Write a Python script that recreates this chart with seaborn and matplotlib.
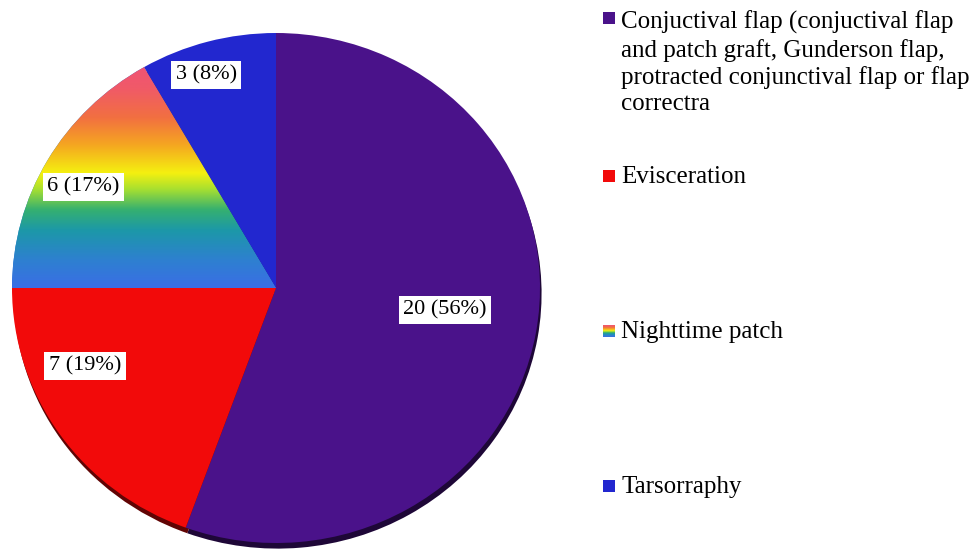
import numpy as np
import matplotlib
matplotlib.use("Agg")
import matplotlib.pyplot as plt
import seaborn as sns
from matplotlib.colors import LinearSegmentedColormap, to_rgb
from matplotlib.patches import Rectangle

# ---- data ----
categories = [
    "Conjuctival flap (conjuctival flap\nand patch graft, Gunderson flap,\nprotracted conjunctival flap or flap\ncorrectra",
    "Evisceration",
    "Nighttime patch",
    "Tarsorraphy",
]
counts = [20, 7, 6, 3]
pct_labels = ["20 (56%)", "7 (19%)", "6 (17%)", "3 (8%)"]
colors = ["#4A128A", "#F20A0A", "#2E78D8", "#2227CF"]

# ---- style ----
sns.set_theme(style="white")
plt.rcParams["font.family"] = ["Liberation Serif", "DejaVu Serif"]

W, H = 969, 554
fig = plt.figure(figsize=(W / 100, H / 100), dpi=100)
fig.patch.set_facecolor("white")
cx, cy, RX, RY = 276, 288, 264, 255  # pixel centre / radii of pie
m = 1.04
ax = fig.add_axes([(cx - RX * m) / W, (H - cy - RY * m) / H, 2 * RX * m / W, 2 * RY * m / H])

# shadow pie (3D edge)
dark = [tuple(c * 0.4 for c in to_rgb(col)) for col in colors]
ax.pie(counts, colors=dark, startangle=90, counterclock=False,
       center=(0.006, -0.022), radius=1, wedgeprops=dict(linewidth=0))
wedges, _ = ax.pie(counts, colors=colors, startangle=90, counterclock=False,
                   radius=1, wedgeprops=dict(linewidth=0))

# rainbow gradient for the nighttime patch wedge
rainbow = LinearSegmentedColormap.from_list("rb", [
    (0.00, "#3A6EE6"), (0.12, "#2E80D0"), (0.25, "#1C98A8"), (0.34, "#35B070"),
    (0.43, "#A8E030"), (0.50, "#F4F010"), (0.62, "#F5A820"), (0.74, "#F27040"),
    (0.87, "#F05A68"), (1.00, "#F0507A")])
grad = np.linspace(0, 1, 256).reshape(-1, 1)
im = ax.imshow(grad, cmap=rainbow, origin="lower", extent=[-1, 0, 0, 0.9],
               aspect="auto", zorder=wedges[2].get_zorder() + 0.1)
im.set_clip_path(wedges[2])

# value labels
dist = [0.646, 0.785, 0.831, 0.876]
shift = [2.3, -12.1, 1.5, 2.6]
for w, lab, d, s in zip(wedges, pct_labels, dist, shift):
    ang = np.deg2rad((w.theta1 + w.theta2) / 2 + s)
    ax.text(d * np.cos(ang), d * np.sin(ang), lab, ha="center", va="center",
            fontsize=16, color="black", zorder=10,
            bbox=dict(boxstyle="square,pad=0.2", facecolor="white", edgecolor="none"))

ax.set_xlim(-m, m)
ax.set_ylim(-m, m)
ax.set_aspect("auto")
ax.axis("off")

# legend (manual)
leg_y = [18, 176, 331, 486]
for i, (lab, y) in enumerate(zip(categories, leg_y)):
    if i == 2:
        lax = fig.add_axes([603 / W, 1 - (y + 6.5) / H, 12 / W, 13 / H])
        lax.imshow(grad, cmap=rainbow, origin="lower", aspect="auto")
        lax.axis("off")
    else:
        fig.patches.append(Rectangle((603 / W, 1 - (y + 6) / H), 12 / W, 12 / H,
                                     transform=fig.transFigure, facecolor=colors[i],
                                     edgecolor="none"))
    if "\n" in lab:
        fig.text(621 / W, 1 - 11 / H, lab, ha="left", va="top", fontsize=18,
                 linespacing=1.24, color="black")
    else:
        fig.text(621 / W, 1 - (y + 1) / H, lab, ha="left", va="center", fontsize=18,
                 color="black")

fig.savefig("out.png", dpi=100, facecolor="white")
